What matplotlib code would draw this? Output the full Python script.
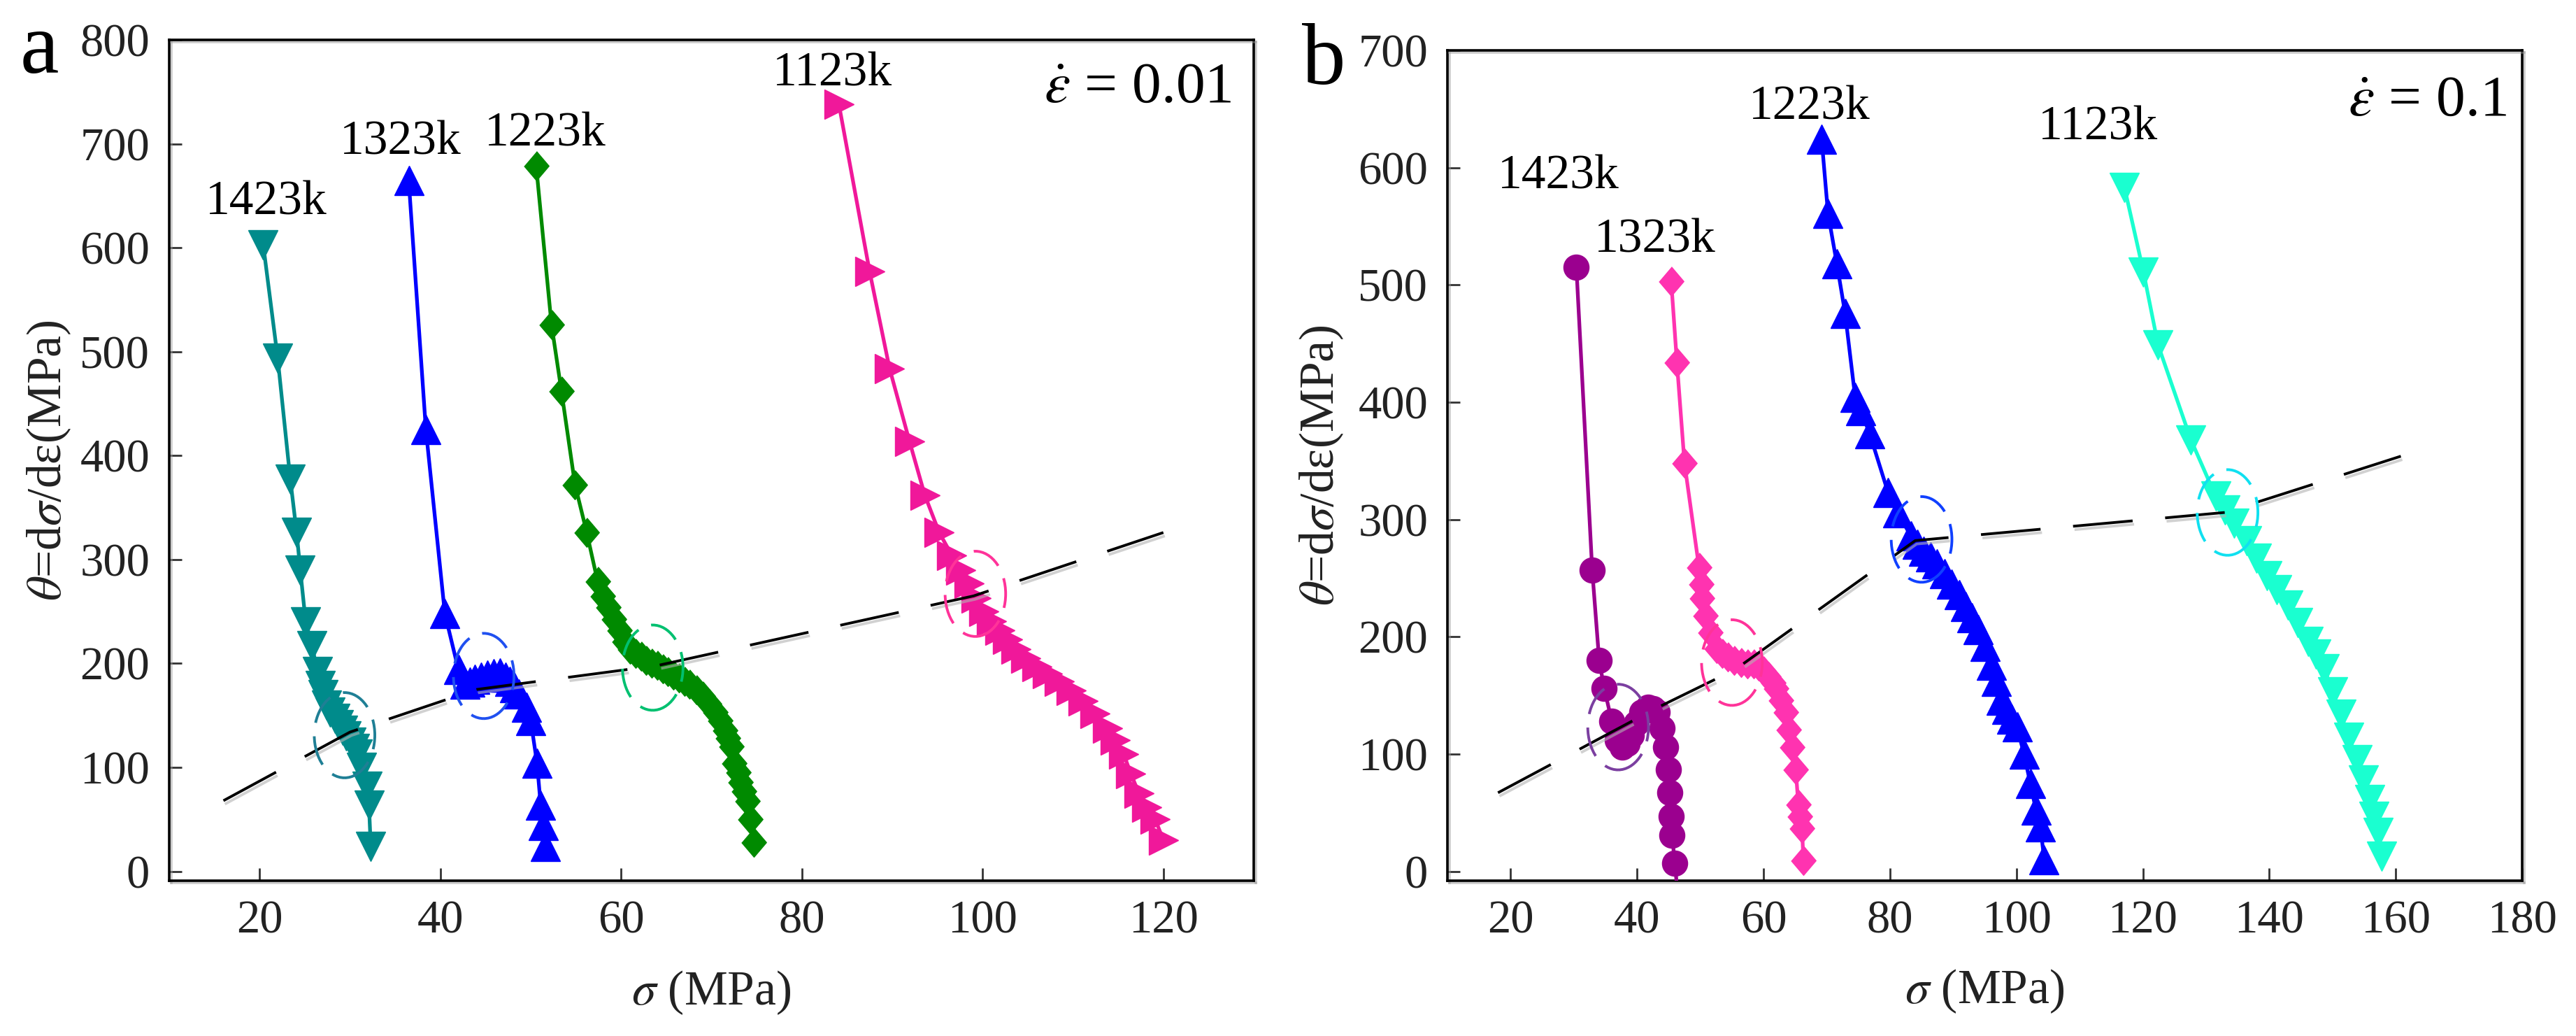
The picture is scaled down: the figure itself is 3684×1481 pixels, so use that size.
import numpy as np
import matplotlib

matplotlib.use("Agg")
import matplotlib.pyplot as plt
import matplotlib.patheffects as pe
from matplotlib.patches import Ellipse

plt.rcParams["font.family"] = "serif"
plt.rcParams["font.serif"] = ["Liberation Serif", "DejaVu Serif"]
plt.rcParams["mathtext.fontset"] = "stix"

# ---- panel a : strain rate 0.01 ----
a1423_x = [20.4, 22.0, 23.4, 24.1, 24.5, 25.1, 25.8, 26.4, 26.7, 27.0, 27.4, 27.8, 28.3, 28.7,
           29.2, 29.6, 30.1, 30.5, 30.8, 31.3, 31.9, 32.1, 32.3]
a1423_y = [603, 494, 377, 326, 290, 240, 217, 192, 179, 170, 160, 153, 147, 141,
           136, 130, 124, 118, 113, 100, 82, 64, 24]

a1323_x = [36.5, 38.4, 40.5, 42.0, 42.7, 43.3, 43.8, 44.5, 45.2, 45.9, 46.6, 47.2, 47.7, 48.2,
           48.7, 49.5, 50.0, 50.7, 51.1, 51.4, 51.6]
a1323_y = [665, 425, 248, 194, 180, 182, 185, 187, 189, 190, 191, 187, 183, 177,
           171, 158, 145, 104, 64, 44, 24]

a1223_x = [50.6, 52.3, 53.4, 54.9, 56.2, 57.4, 58.0, 58.6, 59.2, 59.8, 60.4, 61.0, 61.6, 62.2,
           62.8, 63.4, 64.0, 64.6, 65.2, 65.8, 66.4, 67.0, 67.6, 68.3, 69.0, 69.7, 70.4, 71.0,
           71.5, 71.8, 72.2, 72.5, 73.0, 73.2, 73.6, 74.0, 74.3, 74.7]
a1223_y = [679, 526, 462, 372, 326, 279, 265, 254, 243, 232, 221, 214, 210, 207,
           203, 200, 198, 195, 192, 189, 186, 183, 180, 175, 169, 161, 153, 145,
           136, 128, 120, 104, 95, 86, 77, 68, 50, 28]

a1123_x = [84.1, 87.5, 89.7, 91.9, 93.6, 95.2, 96.6, 97.6, 98.5, 99.3, 100.1, 101.0, 101.9, 102.8,
           103.7, 104.8, 106.0, 107.2, 108.5, 109.8, 111.1, 112.4, 113.8, 114.7, 115.6, 116.4,
           117.3, 118.2, 119.1, 120.0]
a1123_y = [738, 577, 484, 414, 362, 326, 304, 290, 277, 263, 250, 241, 232, 223,
           214, 205, 197, 190, 183, 174, 164, 152, 138, 126, 113, 94,
           75, 62, 50, 30]

a_crit_x = [16, 30, 44, 64, 99, 120]
a_crit_y = [68, 134, 175, 198, 265, 326]
a_circ_x = [29.4, 44.8, 63.5, 99.2]
a_circ_y = [131, 188, 196, 267]

# ---- panel b : strain rate 0.1 ----
b1423_x = [30.4, 32.9, 34.0, 34.8, 36.0, 36.9, 37.6, 38.4, 39.1, 39.9, 40.7, 41.7, 42.5, 43.2,
           44.0, 44.5, 44.9, 45.2, 45.4, 45.5, 46.0, 46.4]
b1423_y = [515, 257, 180, 156, 128, 112, 106, 109, 116, 126, 136, 140, 139, 136,
           122, 106, 87, 67, 47, 31, 7, -20]

b1323_x = [45.4, 46.3, 47.5, 49.8, 50.1, 50.3, 50.8, 51.6, 52.6, 53.5, 54.4, 55.4, 56.4, 57.4,
           58.4, 59.2, 60.0, 60.8, 61.5, 62.0, 62.8, 63.5, 64.0, 64.5, 65.1, 65.5, 65.8, 66.1, 66.3]
b1323_y = [503, 434, 348, 259, 245, 233, 218, 204, 190, 186, 183, 180, 178, 177,
           177, 175, 171, 166, 161, 156, 146, 136, 121, 106, 87, 57, 47, 37, 9]

b1223_x = [69.2, 70.2, 71.6, 72.9, 74.5, 75.4, 76.8, 79.7, 81.2, 83.3, 84.3, 85.3, 86.4, 87.4,
           88.6, 89.8, 91.0, 92.0, 93.0, 94.0, 95.0, 96.1, 96.8, 97.6, 98.5, 99.3, 100.1, 101.2,
           102.2, 103.1, 103.8, 104.4]
b1223_y = [624, 561, 518, 476, 404, 393, 373, 323, 306, 286, 279, 273, 268, 262,
           254, 245, 236, 226, 216, 206, 192, 176, 162, 146, 138, 130, 123, 100,
           75, 52, 38, 10]

b1123_x = [117.1, 120.1, 122.4, 127.6, 131.5, 133.0, 134.4, 136.4, 138.0, 139.6, 141.2, 142.9,
           144.5, 146.1, 147.4, 148.7, 150.0, 151.3, 152.6, 153.9, 154.9, 155.9, 156.6, 157.2, 157.8]
b1123_y = [583, 511, 449, 368, 320, 308, 297, 282, 267, 252, 240, 227,
           212, 196, 185, 173, 153, 134, 114, 95, 78, 61, 47, 33, 13]

b_crit_x = [18, 43, 55.5, 84, 133, 162]
b_crit_y = [67, 139, 172, 282, 306, 356]
b_circ_x = [37, 55, 85, 133.4]
b_circ_y = [123, 178, 283, 306]

DIAMOND = [(0, 1), (0.85, 0), (0, -1), (-0.85, 0)]

W, H = 3684, 1481
fig = plt.figure(figsize=(W / 100, H / 100), dpi=100)


def frac_box(l, t, r, b):
    return [l / W, 1 - b / H, (r - l) / W, (b - t) / H]


ax_a = fig.add_axes(frac_box(242, 57, 1793, 1259))
ax_b = fig.add_axes(frac_box(2070, 72, 3607, 1259))


def style_axes(ax, xlim, ylim, xticks, yticks):
    ax.set_xlim(*xlim)
    ax.set_ylim(*ylim)
    ax.set_xticks(xticks)
    ax.set_yticks(yticks)
    ax.tick_params(direction="in", length=13, width=2, color="#333333", labelsize=48,
                   labelcolor="#222222", pad=20, top=False, right=False)
    for sp in ax.spines.values():
        sp.set_linewidth(2.6)
        sp.set_path_effects([pe.SimpleLineShadow(offset=(2, -2), shadow_color="0.6", alpha=0.5),
                             pe.Normal()])
    ax.set_xlabel(r"$\sigma$ (MPa)", fontsize=50, color="#222222")
    ax.set_ylabel(r"$\theta$=d$\sigma$/dε(MPa)", fontsize=50, color="#222222")
    ax.xaxis.set_label_coords(0.5, -0.105)


def curve(ax, x, y, color, marker, ms):
    ax.plot(x, y, color=color, lw=3.8, marker=marker, ms=ms, mec=color, mfc=color, zorder=3)


def crit_line(ax, x, y):
    ax.plot(x, y, color="black", lw=2.8, dashes=(22, 12), zorder=5,
            path_effects=[pe.SimpleLineShadow(offset=(1.5, -3.5), shadow_color="0.7", alpha=0.6),
                          pe.Normal()])


def rings(ax, cx, cy, colors, w, h):
    for x, y, c in zip(cx, cy, colors):
        ax.add_patch(Ellipse((x, y), w, h, fill=False, ec=c, lw=2.8,
                             linestyle=(0, (11, 5)), zorder=6))


# panel a
style_axes(ax_a, (10, 130), (-9, 800), np.arange(20, 121, 20), np.arange(0, 801, 100))
curve(ax_a, a1423_x, a1423_y, "#008B8B", "v", 30)
curve(ax_a, a1323_x, a1323_y, "#0000FF", "^", 30)
curve(ax_a, a1223_x, a1223_y, "#008A00", DIAMOND, 30)
curve(ax_a, a1123_x, a1123_y, "#F0189A", ">", 30)
crit_line(ax_a, a_crit_x, a_crit_y)
rings(ax_a, a_circ_x, a_circ_y, ["#1F7F95", "#2050F0", "#00C070", "#FF3399"], 6.7, 82)
ax_a.yaxis.set_label_coords(-0.089, 0.5)
for txt, x, y in [("1423k", 20.7, 632), ("1323k", 35.6, 690), ("1223k", 51.6, 698), ("1123k", 83.4, 756)]:
    ax_a.text(x, y, txt, fontsize=50, ha="center", va="baseline")
ax_a.text(0.98, 0.926, r"$\dot{\varepsilon}$ = 0.01", transform=ax_a.transAxes,
          fontsize=60, ha="right", va="baseline")

# panel b
style_axes(ax_b, (10, 180), (-8, 700), np.arange(20, 181, 20), np.arange(0, 701, 100))
curve(ax_b, b1423_x, b1423_y, "#9B008F", "o", 26)
curve(ax_b, b1323_x, b1323_y, "#FF33B0", DIAMOND, 30)
curve(ax_b, b1223_x, b1223_y, "#0000FF", "^", 30)
curve(ax_b, b1123_x, b1123_y, "#1AFFD0", "v", 30)
crit_line(ax_b, b_crit_x, b_crit_y)
rings(ax_b, b_circ_x, b_circ_y, ["#7B3FA0", "#FF3399", "#1040FF", "#10E0F0"], 9.6, 73)
ax_b.yaxis.set_label_coords(-0.095, 0.5)
for txt, x, y in [("1423k", 27.6, 582), ("1323k", 42.8, 528), ("1223k", 67.3, 641), ("1123k", 112.9, 624)]:
    ax_b.text(x, y, txt, fontsize=50, ha="center", va="baseline")
ax_b.text(0.986, 0.922, r"$\dot{\varepsilon}$ = 0.1", transform=ax_b.transAxes,
          fontsize=60, ha="right", va="baseline")

fig.text(29 / W, 1 - 104 / H, "a", fontsize=90, ha="left", va="baseline")
fig.text(1862 / W, 1 - 120 / H, "b", fontsize=90, ha="left", va="baseline")

fig.savefig("out.png", dpi=100)
